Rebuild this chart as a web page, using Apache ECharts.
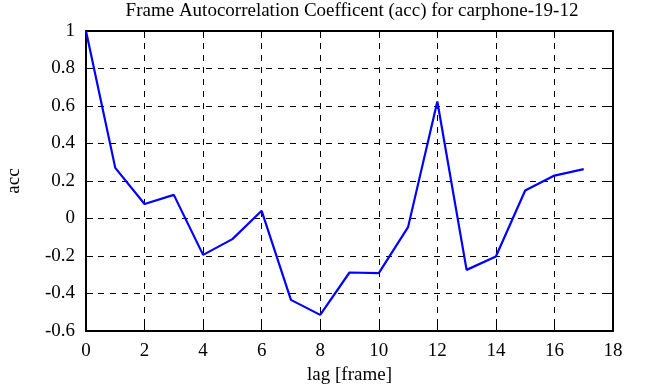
<!DOCTYPE html>
<html><head><meta charset="utf-8">
<script src="https://cdn.jsdelivr.net/npm/echarts@6/dist/echarts.min.js"></script>
<style>html,body{margin:0;padding:0;background:#fff}#c{width:646px;height:387px}</style>
</head><body><div id="c"></div>
<script>
const lags = [0,1,2,3,4,5,6,7,8,9,10,11,12,13,14,15,16,17];
const acc = [1.0,0.27,0.077,0.126,-0.194,-0.11,0.041,-0.434,-0.514,-0.288,-0.291,-0.046,0.624,-0.274,-0.203,0.149,0.229,0.263];
const titleText = 'Frame Autocorrelation Coefficent (acc) for carphone-19-12';
const xName = 'lag [frame]';
const yName = 'acc';

const font = 'Liberation Serif';
const fs = 19;
const chart = echarts.init(document.getElementById('c'));
const axisCommon = {
  axisLine: {show: true, onZero: false, lineStyle: {color: '#000', width: 2}},
  axisTick: {show: true, inside: true, length: 7, lineStyle: {color: '#000', width: 1}},
};
chart.setOption({
  animation: false,
  title: {text: titleText, left: 347, textAlign: 'center', top: -3,
    textStyle: {fontFamily: font, fontSize: fs, fontWeight: 'normal', color: '#000'}},
  grid: {left: 86, right: 33, top: 31, bottom: 56, containLabel: false, outerBoundsMode: 'none'},
  xAxis: [{
    type: 'value', min: 0, max: 18, interval: 2, position: 'bottom',
    name: xName, nameLocation: 'middle', nameGap: 31,
    nameTextStyle: {fontFamily: font, fontSize: fs, color: '#000'},
    ...axisCommon,
    axisLabel: {fontFamily: font, fontSize: fs, color: '#000', margin: 11},
    splitLine: {show: true, lineStyle: {color: '#000', type: [6, 6], width: 1}}
  }, {
    type: 'value', min: 0, max: 18, interval: 2, position: 'top',
    ...axisCommon, axisLabel: {show: false}, splitLine: {show: false}
  }],
  yAxis: [{
    type: 'value', min: -0.6, max: 1, interval: 0.2, position: 'left',
    name: yName, nameLocation: 'middle', nameGap: 62, nameRotate: 90,
    nameTextStyle: {fontFamily: font, fontSize: fs, color: '#000'},
    ...axisCommon,
    axisLabel: {fontFamily: font, fontSize: fs, color: '#000', margin: 11,
      formatter: v => String(Math.round(v * 10) / 10)},
    splitLine: {show: true, lineStyle: {color: '#000', type: [6, 6], width: 1}}
  }, {
    type: 'value', min: -0.6, max: 1, interval: 0.2, position: 'right',
    ...axisCommon, axisLabel: {show: false}, splitLine: {show: false}
  }],
  series: [{
    type: 'line', data: lags.map((x, i) => [x, acc[i]]),
    showSymbol: false, lineStyle: {color: '#0000ff', width: 2.2},
    xAxisIndex: 0, yAxisIndex: 0
  }]
});
</script></body></html>
